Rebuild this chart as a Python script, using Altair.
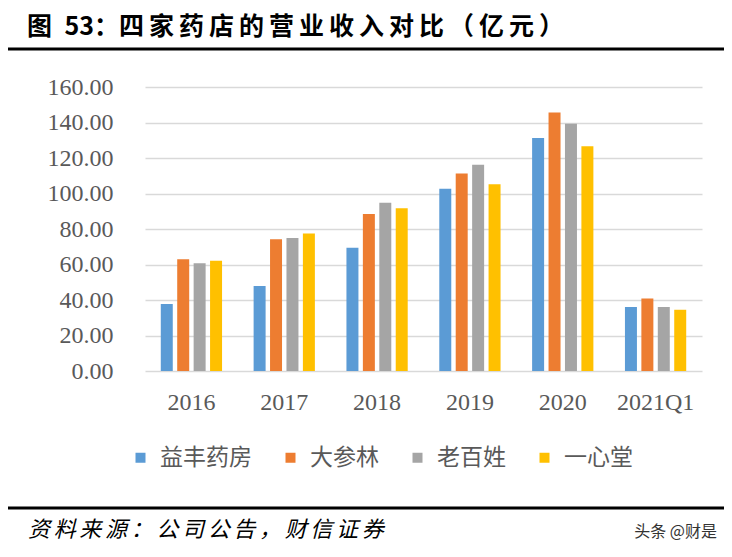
import altair as alt
import pandas as pd

years = ["2016", "2017", "2018", "2019", "2020", "2021Q1"]
series = ["益丰药房", "大参林", "老百姓", "一心堂"]
yifeng = [37.7, 47.9, 69.5, 102.7, 131.3, 36.1]
dashenlin = [62.9, 74.2, 88.5, 111.3, 145.7, 40.9]
laobaixing = [60.7, 74.9, 94.8, 116.2, 139.3, 36.1]
yixintang = [62.1, 77.4, 91.7, 105.2, 126.6, 34.5]
colors = ["#5B9BD5", "#ED7D31", "#A5A5A5", "#FFC000"]
y_ticks = [0, 20, 40, 60, 80, 100, 120, 140, 160]

title_text = "图\u200253：" + "\u2009".join(list("四家药店的营业收入对比（亿元）"))
source_text = "\u2006".join(list("资料来源：公司公告，财信证券"))
mark_text = "头条 @财是"

rows = []
for name, vals in zip(series, [yifeng, dashenlin, laobaixing, yixintang]):
    for yr, v in zip(years, vals):
        rows.append({"year": yr, "series": name, "value": v})
df = pd.DataFrame(rows)

bars = alt.Chart(df).mark_bar().encode(
    x=alt.X("year:N", sort=years,
            scale=alt.Scale(paddingInner=0.34, paddingOuter=0.17),
            axis=alt.Axis(title=None, labelAngle=0, labelFont="Liberation Serif",
                          labelFontSize=24, labelColor="#595959", labelPadding=19,
                          ticks=False, domain=False, grid=False)),
    xOffset=alt.XOffset("series:N", sort=series, scale=alt.Scale(paddingInner=0.27)),
    y=alt.Y("value:Q", scale=alt.Scale(domain=[0, 160], nice=False),
            axis=alt.Axis(title=None, values=y_ticks, format=".2f",
                          labelFont="Liberation Serif", labelFontSize=24,
                          labelColor="#595959", labelPadding=32,
                          ticks=False, domain=False, grid=True,
                          gridColor="#D9D9D9", gridWidth=1.5)),
    color=alt.Color("series:N", sort=series,
                    scale=alt.Scale(domain=series, range=colors),
                    legend=alt.Legend(orient="none", direction="horizontal",
                                      legendX=-16, legendY=359, title=None,
                                      symbolType="square", symbolSize=100,
                                      symbolStrokeWidth=0,
                                      labelFont="Noto Sans CJK SC", labelFontSize=23,
                                      labelColor="#595959", columnPadding=27,
                                      labelOffset=8)),
)

one = pd.DataFrame({"t": [title_text]})
title = alt.Chart(one).mark_text(
    align="left", baseline="middle", font="Noto Sans CJK SC", fontSize=25,
    fontWeight="bold", color="#000000"
).encode(text="t:N", x=alt.value(-118), y=alt.value(-60))

top_line = alt.Chart(pd.DataFrame({"a": [0]})).mark_rule(
    color="#000000", strokeWidth=3
).encode(x=alt.value(-137), x2=alt.value(579), y=alt.value(-38))

bottom_line = alt.Chart(pd.DataFrame({"a": [0]})).mark_rule(
    color="#000000", strokeWidth=3
).encode(x=alt.value(-137), x2=alt.value(579), y=alt.value(421))

source = alt.Chart(pd.DataFrame({"t": [source_text]})).mark_text(
    align="left", baseline="middle", font="Noto Sans CJK SC", fontSize=22,
    fontStyle="italic", color="#000000"
).encode(text="t:N", x=alt.value(-117), y=alt.value(443))

wm = alt.Chart(pd.DataFrame({"t": [mark_text]})).mark_text(
    align="right", baseline="middle", font="Noto Sans CJK SC", fontSize=16,
    color="#333333"
).encode(text="t:N", x=alt.value(572), y=alt.value(445))

chart = alt.layer(bars, title, top_line, bottom_line, source, wm).properties(
    width=557, height=284,
    autosize=alt.AutoSizeParams(type="none"),
    padding={"left": 137, "top": 79, "right": 22, "bottom": 178},
    background="white",
).configure_view(stroke=None)

chart.save("out.html", embed_options={"renderer": "svg", "actions": False})
